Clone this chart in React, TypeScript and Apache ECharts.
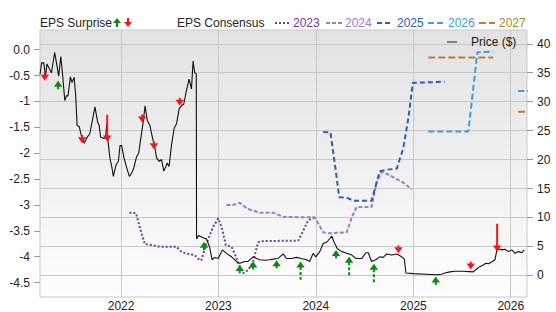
import { useEffect, useRef } from 'react';
import * as echarts from 'echarts';

const FONT = '"Liberation Sans", Arial, sans-serif';

const priceDates = [
  '2021-03-03','2021-03-09','2021-03-17','2021-03-24','2021-03-29','2021-04-08','2021-04-15','2021-04-27','2021-05-06','2021-05-12',
  '2021-05-20','2021-05-26','2021-06-04','2021-06-10','2021-06-16','2021-06-25','2021-07-01','2021-07-09','2021-07-15','2021-07-20',
  '2021-07-28','2021-08-06','2021-08-16','2021-08-25','2021-09-06','2021-09-25','2021-10-05','2021-10-11','2021-10-16','2021-10-26',
  '2021-11-04','2021-11-08','2021-11-14','2021-11-20','2021-11-27','2021-12-03','2021-12-13','2021-12-22','2021-12-28','2022-01-03',
  '2022-01-12','2022-01-22','2022-02-01','2022-02-10','2022-02-18','2022-02-28','2022-03-08','2022-03-16','2022-03-25','2022-04-01',
  '2022-04-09','2022-04-19','2022-04-29','2022-05-08','2022-05-14','2022-05-24','2022-06-02','2022-06-10','2022-06-18','2022-06-23',
  '2022-06-30','2022-07-09','2022-07-19','2022-07-28','2022-08-07','2022-08-16','2022-08-24','2022-09-03','2022-09-13','2022-09-22',
  '2022-09-28','2022-10-04','2022-10-10','2022-10-11','2022-10-19','2022-11-04','2022-11-17','2022-11-29','2022-12-08','2022-12-18',
  '2022-12-31','2023-01-16','2023-01-31','2023-02-19','2023-03-09','2023-03-22','2023-04-10','2023-04-22','2023-05-11','2023-05-24',
  '2023-06-05','2023-06-24','2023-07-12','2023-07-25','2023-08-12','2023-09-01','2023-09-13','2023-10-02','2023-10-21','2023-11-08',
  '2023-11-27','2023-12-09','2023-12-22','2024-01-01','2024-01-16','2024-01-29','2024-02-13','2024-03-01','2024-03-09','2024-03-22',
  '2024-04-08','2024-04-26','2024-05-15','2024-05-31','2024-06-21','2024-07-07','2024-07-16','2024-07-28','2024-08-13','2024-08-28',
  '2024-09-10','2024-09-23','2024-10-12','2024-10-31','2024-11-18','2024-11-28','2024-12-04','2025-01-01','2025-02-20','2025-03-29',
  '2025-04-17','2025-04-29','2025-05-18','2025-06-06','2025-07-07','2025-08-13','2025-08-26','2025-09-07','2025-09-20','2025-09-30',
  '2025-10-09','2025-10-21','2025-11-03','2025-11-09','2025-11-15','2025-11-28','2025-12-10','2025-12-23','2026-01-05','2026-01-17',
  '2026-01-30','2026-02-12','2026-02-20',
];
const priceValues = [
  34.7,36.7,36.7,34.4,36.5,35.6,35.0,38.5,36.1,34.4,
  37.8,35.0,30.2,31.0,31.0,34.3,33.3,34.2,31.0,25.9,
  25.7,23.9,22.8,23.7,24.5,29.1,26.5,25.9,23.9,23.7,
  23.7,26.2,22.8,20.3,18.8,17.1,19.1,19.7,22.4,22.4,
  20.3,18.6,17.1,17.7,18.6,20.5,21.1,23.7,26.5,29.3,
  26.8,25.9,23.7,22.0,20.3,19.7,20.0,18.0,18.8,19.4,
  18.8,22.5,25.4,26.2,28.8,29.3,29.6,31.9,33.9,32.2,
  37.0,35.0,34.8,6.3,6.9,6.5,6.3,4.9,2.7,3.1,
  2.9,4.4,3.8,3.2,2.4,2.1,2.4,2.4,3.2,2.9,
  2.7,2.6,2.7,2.8,2.9,3.7,2.9,2.9,3.1,2.9,
  2.7,2.4,3.8,3.2,4.1,5.5,5.8,6.8,5.8,4.6,
  4.1,3.8,3.5,2.9,2.9,3.9,3.9,2.4,2.7,3.2,
  3.1,3.7,3.5,3.7,3.2,2.8,0.4,0.3,0.2,0.1,
  0.2,0.4,0.6,0.7,0.7,0.6,1.1,1.5,1.8,2.1,
  2.0,2.3,2.7,4.1,4.6,4.4,4.5,4.1,4.4,3.8,
  4.1,3.9,4.4,
];

const c2023Dates = ['2022-02-01','2022-02-26','2022-03-12','2022-03-31','2022-05-01','2022-05-26','2022-07-28','2022-08-16','2022-09-03','2022-10-04','2022-10-23','2022-10-29','2022-11-17','2022-12-12','2022-12-31','2023-01-13','2023-01-29','2023-02-19','2023-03-03','2023-03-16','2023-04-04','2023-04-22','2023-05-11','2023-05-30','2023-06-18','2023-10-27','2023-11-15','2023-12-03','2023-12-28'];
const c2023Values = [-3.15,-3.16,-3.43,-3.76,-3.78,-3.81,-3.81,-3.91,-3.94,-3.97,-4.07,-4.07,-3.75,-3.43,-3.26,-3.43,-3.78,-3.81,-3.94,-4.13,-4.32,-4.26,-4.10,-3.72,-3.70,-3.69,-3.50,-3.30,-3.24];

const c2024Dates = ['2023-01-31','2023-02-25','2023-03-22','2023-04-22','2023-05-11','2023-06-05','2023-07-25','2023-09-01','2023-11-15','2023-12-28','2024-01-29','2024-02-17','2024-04-26','2024-05-15','2024-06-02','2024-07-28','2024-08-16','2024-09-04','2024-10-05','2024-11-24','2024-12-26'];
const c2024Values = [-3.00,-3.00,-2.96,-3.08,-3.11,-3.15,-3.15,-3.23,-3.24,-3.24,-3.53,-3.55,-3.53,-3.24,-3.04,-3.04,-2.57,-2.36,-2.43,-2.57,-2.70];

const c2025Dates = ['2024-01-29','2024-02-25','2024-03-13','2024-03-29','2024-04-26','2024-05-21','2024-07-28','2024-08-16','2024-08-28','2024-09-23','2024-10-31','2024-11-06','2024-11-24','2024-12-13','2024-12-30','2025-04-28'];
const c2025Values = [-1.59,-1.60,-2.23,-2.85,-2.86,-2.92,-2.92,-2.57,-2.35,-2.32,-2.30,-2.19,-1.91,-1.33,-0.64,-0.62];

const c2026Dates = ['2025-02-26','2025-07-26','2025-08-29','2025-10-27','2025-12-01','2026-01-29','2026-03-10'];
const c2026Values = [-1.58,-1.58,-0.05,-0.04,null,-0.80,-0.80];

const c2027Dates = ['2025-02-26','2025-10-27','2025-12-01','2026-01-29','2026-03-10'];
const c2027Values = [-0.15,-0.15,null,-1.20,-1.20];

const surpriseDates = ['2021-03-21','2021-05-10','2021-08-08','2021-11-10','2022-03-21','2022-05-04','2022-08-09','2022-11-08','2023-03-22','2023-05-11','2023-08-07','2023-11-05','2024-03-17','2024-05-05','2024-08-06','2024-11-06','2025-03-26','2025-08-04','2025-11-11'];
const surprisePrices = [33.6,33.6,22.8,23.1,26.4,21.8,29.3,5.8,1.8,2.4,2.6,2.4,4.4,3.2,2.0,3.8,-0.2,1.0,4.1];
const surpriseValues = [-0.16,0.16,-0.16,-0.51,-0.15,-0.13,-0.13,0.16,0.16,0.13,0.15,0.35,0.16,0.37,0.37,-0.12,0.16,-0.15,-0.53];

const epsTicks = [0, -0.5, -1, -1.5, -2, -2.5, -3, -3.5, -4, -4.5];
const priceTicks = [0, 5, 10, 15, 20, 25, 30, 35, 40];
const yearTicks = [2022, 2023, 2024, 2025, 2026];
const consensusYears = ['2023', '2024', '2025', '2026', '2027'];
const xStart = '2021-03-03';
const xEnd = '2026-03-03';

const COLORS = ['#6b3d99', '#a07dc4', '#2862b0', '#40a0d6', '#b08236'];
const DASHES = [[2, 2], [4, 2], [5, 3], [6, 3], [7, 3]];
const GRID = '#c9c9c9';
const GREEN = '#0b8a0b';
const RED = '#f01818';
const ARROW_SCALE = 52.5;

const ts = (d: string) => Date.parse(d + 'T00:00:00Z');

export default function App() {
  const ref = useRef<HTMLDivElement>(null);
  useEffect(() => {
    const chart = echarts.init(ref.current!, null, { renderer: 'svg' });
    const yearTickTimes = yearTicks.map((y) => Date.UTC(y, 0, 1));
    const consensusData = [
      [c2023Dates, c2023Values],
      [c2024Dates, c2024Values],
      [c2025Dates, c2025Values],
      [c2026Dates, c2026Values],
      [c2027Dates, c2027Values],
    ];
    const consensusSeries = consensusData.map(([d, v]: any, i) => ({
      type: 'line',
      yAxisIndex: 0,
      showSymbol: false,
      symbol: 'none',
      connectNulls: false,
      z: 2,
      lineStyle: { color: COLORS[i], width: 2, type: DASHES[i] },
      data: d.map((dd: string, k: number) => [ts(dd), v[k] == null ? '-' : v[k]]),
    }));

    const legendItems: any[] = [];
    const iconX = [275, 326, 377, 428, 479];
    const textX = [293, 345, 397, 448, 499];
    consensusYears.forEach((y, i) => {
      legendItems.push({
        type: 'line',
        shape: { x1: iconX[i], y1: 23, x2: iconX[i] + 16, y2: 23 },
        style: { stroke: COLORS[i], lineWidth: 2, lineDash: DASHES[i] },
      });
      legendItems.push({
        type: 'text',
        x: textX[i],
        y: 23,
        style: { text: y, fill: COLORS[i], font: `12px ${FONT}`, verticalAlign: 'middle' },
      });
    });

    const option: any = {
      animation: false,
      grid: {
        left: 40,
        top: 30,
        right: 29,
        bottom: 11,
        show: true,
        borderColor: GRID,
        borderWidth: 1,
        backgroundColor: new echarts.graphic.LinearGradient(0, 0, 0, 1, [
          { offset: 0, color: '#e2e2e2' },
          { offset: 1, color: '#fdfdfd' },
        ]),
      },
      xAxis: {
        type: 'value',
        min: ts(xStart),
        max: ts(xEnd),
        axisLine: { show: false },
        axisTick: { show: false, customValues: yearTickTimes },
        axisLabel: {
          customValues: yearTickTimes,
          formatter: (v: number) => String(new Date(v).getUTCFullYear()),
          margin: 3,
          color: '#222',
          fontSize: 12,
          fontFamily: FONT,
        },
        splitLine: { show: true, lineStyle: { color: GRID, width: 1 } },
      },
      yAxis: [
        {
          type: 'value',
          position: 'left',
          min: -4.78,
          max: 0.38,
          axisLine: { show: false },
          axisTick: { show: true, length: 6, customValues: epsTicks, lineStyle: { color: '#999' } },
          axisLabel: {
            customValues: epsTicks,
            formatter: (v: number) => (v === 0 ? '0.0' : String(v)),
            margin: 10,
            color: '#222',
            fontSize: 12,
            fontFamily: FONT,
          },
          splitLine: { show: false },
        },
        {
          type: 'value',
          position: 'right',
          min: -3.74,
          max: 42.38,
          axisLine: { show: false },
          axisTick: { show: true, length: 6, customValues: priceTicks, lineStyle: { color: '#999' } },
          axisLabel: { customValues: priceTicks, margin: 10, color: '#222', fontSize: 12, fontFamily: FONT },
          splitLine: { show: true, lineStyle: { color: GRID, width: 1 } },
        },
      ],
      series: [
        ...consensusSeries,
        {
          type: 'line',
          yAxisIndex: 1,
          showSymbol: false,
          symbol: 'none',
          z: 3,
          lineStyle: { color: '#111', width: 1.1 },
          data: priceDates.map((d, i) => [ts(d), priceValues[i]]),
        },
        {
          type: 'custom',
          yAxisIndex: 1,
          z: 5,
          data: surpriseDates.map((d, i) => [ts(d), surprisePrices[i], surpriseValues[i]]),
          renderItem: (_params: any, api: any) => {
            const p = api.coord([api.value(0), api.value(1)]);
            const s = api.value(2) as number;
            const up = s > 0;
            const color = up ? GREEN : RED;
            const dir = up ? 1 : -1;
            const hh = 6;
            const hw = 4.2;
            const len = Math.max(hh + 2, Math.abs(s) * ARROW_SCALE);
            return {
              type: 'group',
              children: [
                {
                  type: 'line',
                  shape: { x1: p[0], y1: p[1] + dir * (hh - 0.5), x2: p[0], y2: p[1] + dir * len },
                  style: { stroke: color, lineWidth: 2, lineDash: up ? [3, 2] : null },
                },
                {
                  type: 'polygon',
                  shape: { points: [[p[0], p[1]], [p[0] - hw, p[1] + dir * hh], [p[0] + hw, p[1] + dir * hh]] },
                  style: { fill: color },
                },
              ],
            };
          },
        },
      ],
      graphic: [
        { type: 'text', x: 40, y: 23, style: { text: 'EPS Surprise', fill: '#222', font: `12px ${FONT}`, verticalAlign: 'middle' } },
        { type: 'polygon', shape: { points: [[117, 18], [113, 23], [121, 23]] }, style: { fill: GREEN } },
        { type: 'line', shape: { x1: 117, y1: 22.5, x2: 117, y2: 27 }, style: { stroke: GREEN, lineWidth: 2 } },
        { type: 'line', shape: { x1: 128, y1: 18, x2: 128, y2: 22.5 }, style: { stroke: RED, lineWidth: 2 } },
        { type: 'polygon', shape: { points: [[128, 27], [124, 22], [132, 22]] }, style: { fill: RED } },
        { type: 'text', x: 177, y: 23, style: { text: 'EPS Consensus', fill: '#222', font: `12px ${FONT}`, verticalAlign: 'middle' } },
        ...legendItems,
        { type: 'line', shape: { x1: 447, y1: 42, x2: 457, y2: 42 }, style: { stroke: '#808080', lineWidth: 2 }, z: 10 },
        { type: 'text', x: 471, y: 42, z: 10, style: { text: 'Price ($)', fill: '#222', font: `12px ${FONT}`, verticalAlign: 'middle' } },
      ],
    };
    chart.setOption(option);
    return () => chart.dispose();
  }, []);
  return <div ref={ref} style={{ position: 'absolute', left: 0, top: 0, width: 556, height: 312 }} />;
}
